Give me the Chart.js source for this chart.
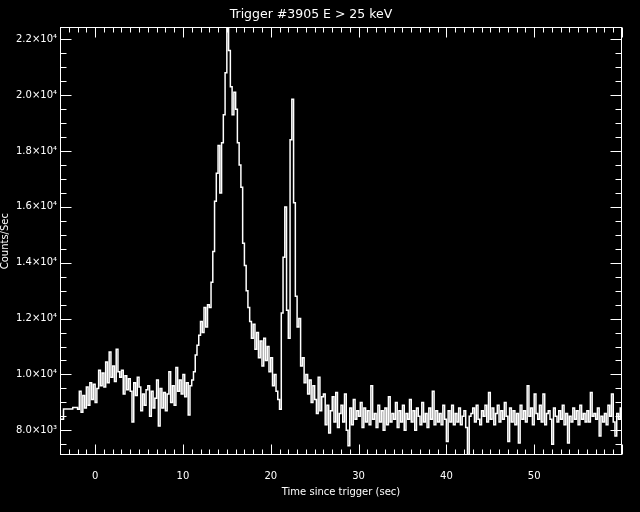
<!DOCTYPE html>
<html>
<head>
<meta charset="utf-8">
<script src="https://cdn.jsdelivr.net/npm/chart.js@4/dist/chart.umd.min.js"></script>
<style>
  body { margin: 0; background: #000; }
  canvas { display: block; }
</style>
</head>
<body>
<canvas id="lc" width="640" height="512"></canvas>
<script>
// pre-trigger 1.024 s samples (bin start time, counts/sec)
let preTimes = [-4.1, -3.6, -2.55];
let preCounts = [8400, 8760, 8820];

// binned light curve, 0.2 s bins
let binWidth = 0.2;
let endTime = 60;

let bgStart = -2.0;
let bgCounts = [
  8750, 9400, 8650, 9250, 8800,
  9550, 8900, 9700, 9100, 9650,
  9000, 9500, 10150, 9600, 10050,
  9550, 10450, 9700, 10800, 9900,
  10300, 9750, 10900, 10100, 9900,
  10150, 9300, 9950, 9450, 9850,
  9400, 8300, 9700, 9250, 9900,
  9550, 8700, 9300, 8900, 9450,
  9600, 8500, 9400, 8800, 9150,
  9800, 8150, 9500, 8800, 9350,
  8700, 9300, 10100, 9000, 9600,
  8900, 10250, 9400, 9800, 9300,
  10000, 9200, 9700, 8550, 9600
];

let burstStart = 11.0;
let burstCounts = [
  9800, 10100, 10700, 11050, 11400,
  11900, 11500, 12400, 11700, 12500,
  12400, 13300, 14400, 16200, 17200,
  18200, 16500, 18300, 19300, 20800,
  22400, 21600, 20300, 19300, 20100,
  19500, 18300, 17500, 16700, 14700,
  13900, 13000, 12400, 11900, 11300,
  11800, 10900, 11500, 10600, 11200,
  10300, 11300, 10500, 11000, 10100,
  10600, 9600, 10000, 9400, 9100,
  8750, 12200, 14200, 16000, 12300,
  11300, 18400, 19850, 16150, 12800,
  11700, 12000, 10300, 10600, 9700,
  10000, 9300, 9800, 9000, 9600
];

let tailStart = 25.0;
let tailCounts = [
  9100, 8600, 9900, 8700, 9200,
  9300, 8200, 8900, 7900, 8700,
  9200, 8300, 9350, 8100, 8600,
  8900, 8300, 9300, 8000, 7450,
  8800, 8200, 9100, 8400, 8700,
  8500, 9000, 8100, 8800, 8300,
  8700, 8200, 9600, 8400, 8600,
  8100, 8900, 8300, 8700, 8000,
  8800, 8200, 9200, 8300, 8600,
  8400, 9000, 8100, 8700, 8300,
  8900, 8000, 8600, 8400, 9100,
  8300, 8700, 8000, 8800, 8500,
  8200, 9000, 8300, 8600, 8100,
  8800, 8400, 9400, 8200, 8700,
  8300, 8600, 8200, 8900, 8400,
  7600, 8700, 8300, 8900, 8200,
  8600, 8300, 8800, 8200, 8500,
  8700, 8100, 7120, 8500, 8600,
  8800, 8300, 8900, 8400, 8200,
  8700, 8500, 8900, 8300, 9350,
  8400, 8800, 8200, 8600, 8900,
  8300, 8700, 8400, 9000, 8500,
  7600, 8800, 8300, 8700, 8200,
  8600, 7550, 8900, 8400, 8700,
  8300, 9600, 8500, 8800, 8200,
  9300, 8600, 8400, 8900, 8300,
  9300, 8200, 8600, 8700, 8400,
  7500, 8800, 8500, 8300, 8700,
  8400, 8900, 8200, 8600, 7550,
  8500, 8300, 8800, 8400, 8700,
  8200, 8900, 8400, 8600, 8300,
  8700, 8300, 9350, 8500, 8600,
  8400, 8800, 7800, 8500, 8300,
  8600, 8200, 8900, 8500, 9300,
  8300, 7800, 8600, 8400, 8800
];

let xTickValues = [0, 10, 20, 30, 40, 50];
let yTickValues = [8000, 10000, 12000, 14000, 16000, 18000, 20000, 22000];
let xRange = [-4, 60];
let yRange = [7116, 22430];

function bins(start, counts) {
  return counts.map((c, i) => ({ x: +(start + i * binWidth).toFixed(2), y: c }));
}

let points = preTimes.map((t, i) => ({ x: t, y: preCounts[i] }))
  .concat(bins(bgStart, bgCounts), bins(burstStart, burstCounts), bins(tailStart, tailCounts));
points.push({ x: endTime, y: tailCounts[tailCounts.length - 1] });

const sup = { 3: "\u00b3", 4: "\u2074" };
function sciLabel(v) {
  let e = Math.floor(Math.log10(v));
  return (v / Math.pow(10, e)).toFixed(1) + "\u00d710" + sup[e];
}

// IDL style box with inward ticks on all four sides
const frameTicks = {
  id: "frameTicks",
  afterDraw(chart) {
    let { ctx, chartArea: a, scales: { x, y } } = chart;
    let L = Math.round(a.left) + 0.5, R = Math.round(a.right) - 0.5;
    let T = Math.round(a.top) + 0.5, B = Math.round(a.bottom) - 0.5;
    ctx.save();
    ctx.strokeStyle = "#fff";
    ctx.lineWidth = 1;
    ctx.strokeRect(L, T, R - L, B - T);
    ctx.beginPath();
    for (let t = xRange[0]; t <= xRange[1]; t++) {
      let px = Math.round(x.getPixelForValue(t)) + 0.5;
      let len = t % 10 === 0 ? 10 : 5;
      ctx.moveTo(px, B); ctx.lineTo(px, B - len);
      ctx.moveTo(px, T); ctx.lineTo(px, T + len);
    }
    for (let v = 7500; v <= yRange[1]; v += 500) {
      let py = Math.round(y.getPixelForValue(v)) + 0.5;
      let len = v % 2000 === 0 ? 11 : 6;
      ctx.moveTo(L, py); ctx.lineTo(L + len, py);
      ctx.moveTo(R, py); ctx.lineTo(R - len, py);
    }
    ctx.stroke();
    ctx.restore();
  }
};

Chart.defaults.color = "#fff";
Chart.defaults.font.family = "'DejaVu Sans', sans-serif";

new Chart(document.getElementById("lc").getContext("2d"), {
  type: "line",
  data: {
    datasets: [{
      data: points,
      borderColor: "#fff",
      borderWidth: 1.5,
      pointRadius: 0,
      stepped: true,
      fill: false
    }]
  },
  options: {
    responsive: false,
    animation: false,
    devicePixelRatio: 1,
    layout: { padding: { right: 18 } },
    plugins: {
      legend: { display: false },
      tooltip: { enabled: false },
      title: {
        display: true,
        text: "Trigger #3905 E > 25 keV",
        color: "#fff",
        font: { size: 12.5, weight: "normal", lineHeight: 1.2 },
        padding: { top: 7.5, bottom: 4.8 }
      }
    },
    scales: {
      x: {
        type: "linear",
        min: xRange[0],
        max: xRange[1],
        grid: { display: false, drawTicks: false },
        border: { display: false },
        afterBuildTicks: s => { s.ticks = xTickValues.map(v => ({ value: v })); },
        afterFit: s => { s.height = 57; },
        ticks: { autoSkip: false, maxRotation: 0, padding: 15, color: "#fff", font: { size: 10 } },
        title: {
          display: true,
          text: "Time since trigger (sec)",
          color: "#fff",
          font: { size: 10 },
          padding: { top: 0, bottom: 14 }
        }
      },
      y: {
        min: yRange[0],
        max: yRange[1],
        grid: { display: false, drawTicks: false },
        border: { display: false },
        afterBuildTicks: s => { s.ticks = yTickValues.map(v => ({ value: v })); },
        afterFit: s => { s.width = 60; },
        ticks: { autoSkip: false, padding: 3, color: "#fff", font: { size: 10 }, callback: v => sciLabel(v) },
        title: {
          display: true,
          text: "Counts/Sec",
          color: "#fff",
          font: { size: 10, lineHeight: 1 },
          padding: 0
        }
      }
    }
  },
  plugins: [frameTicks]
});
</script>
</body>
</html>
